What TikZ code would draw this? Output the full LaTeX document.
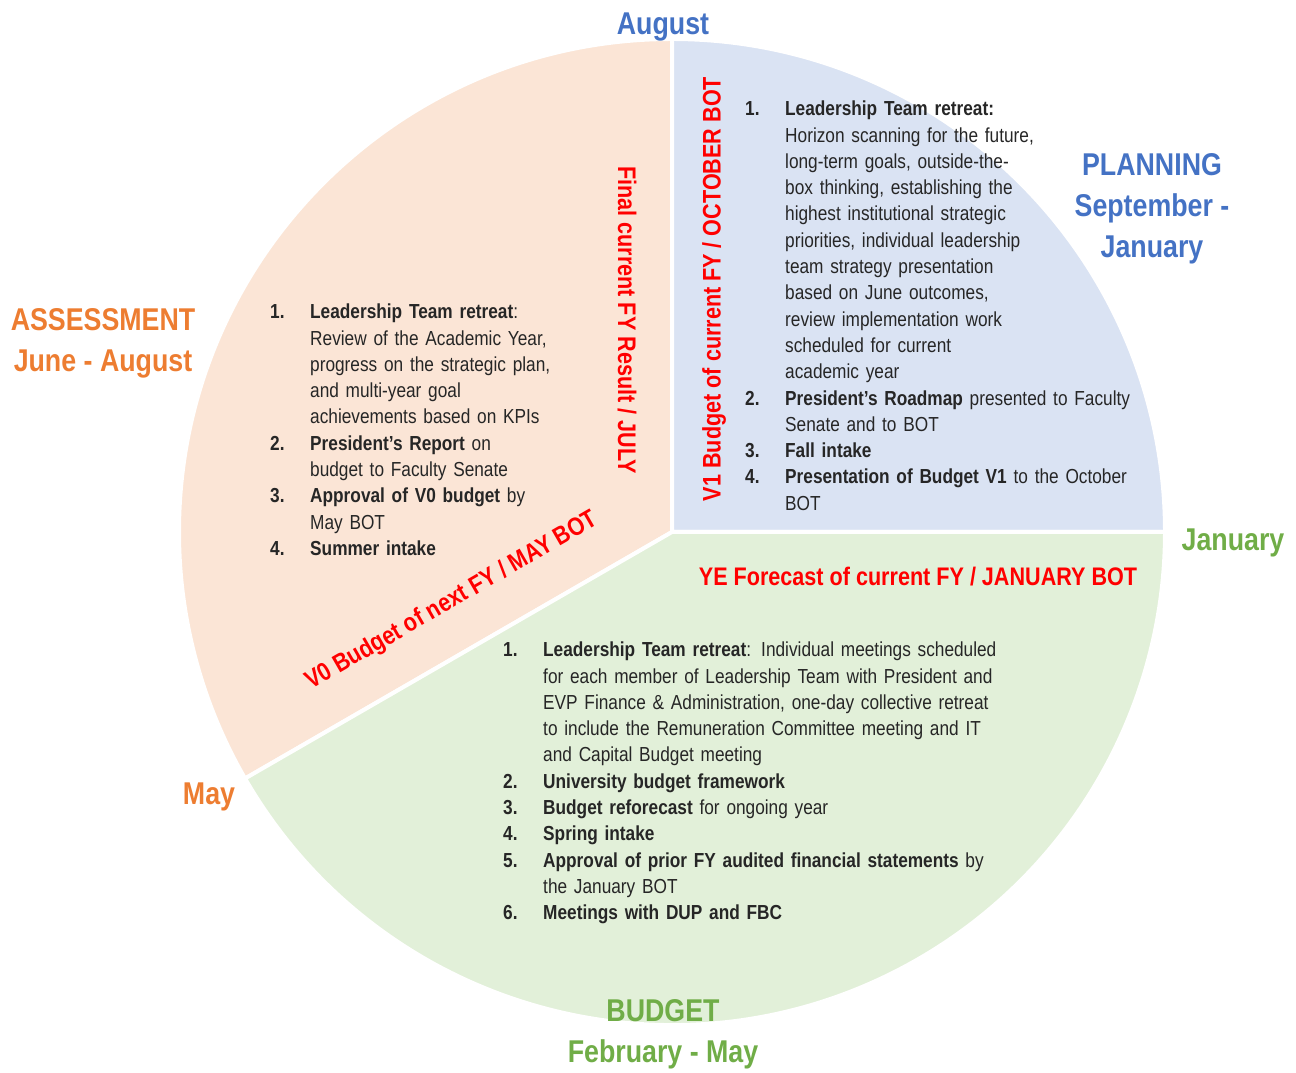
\documentclass[tikz,border=0pt]{standalone}
\usepackage{fontspec}
\setmainfont{Liberation Sans}[FakeStretch=0.85]
\usepackage{tikz}
\usetikzlibrary{positioning}
\definecolor{assessfill}{RGB}{251,229,214}
\definecolor{planfill}{RGB}{218,227,243}
\definecolor{budgetfill}{RGB}{226,240,217}
\definecolor{assessorange}{RGB}{237,125,49}
\definecolor{planblue}{RGB}{68,114,196}
\definecolor{budgetgreen}{RGB}{112,173,71}
\definecolor{bodygray}{RGB}{38,38,38}
\newcommand{\stepitem}[2]{\par\hangindent=40pt\hangafter=1\noindent
  \makebox[40pt][l]{\textbf{#1}}#2\par}

\begin{document}
\begin{tikzpicture}[x=1pt, y=1pt,
  sector/.style={draw=white, line width=4pt},
  season/.style={font=\bfseries\fontsize{31.5}{41}\selectfont, align=center, inner sep=0pt},
  milestone/.style={font=\bfseries\fontsize{25.4}{30}\selectfont, text=red, inner sep=0pt},
  steps/.style={font=\fontsize{20.3}{26.3}\selectfont, text=bodygray, inner sep=0pt,
                anchor=base west}]
  \useasboundingbox (0,0) rectangle (1296,1073);
  \coordinate (ctr) at (672,541);
  % the three seasons of the cycle
  \filldraw[sector, fill=assessfill] (ctr) -- ++(90:493) arc[start angle=90, end angle=210, radius=493] -- cycle;
  \filldraw[sector, fill=planfill] (ctr) -- ++(0:493) arc[start angle=0, end angle=90, radius=493] -- cycle;
  \filldraw[sector, fill=budgetfill] (ctr) -- ++(210:493) arc[start angle=210, end angle=360, radius=493] -- cycle;

  % season titles and months
  \node[season, text=planblue] (aug) at (663,1046) {August};
  \node[season, text=planblue] (planning) at (1152,864) {PLANNING\\ September -\\ January};
  \node[season, text=assessorange] (assess) at (103,729.5) {ASSESSMENT\\ June - August};
  \node[season, text=budgetgreen] (jan) at (1233,530) {January};
  \node[season, text=assessorange] (may) at (209,276) {May};
  \node[season, text=budgetgreen] (budget) at (663,38.5) {BUDGET\\ February - May};

  % budget milestones
  \node[milestone, rotate=-90] (final) at (627,753) {Final current FY Result / JULY};
  \node[milestone, rotate=90] (vone) at (714,784) {V1 Budget of current FY / OCTOBER BOT};
  \node[milestone, rotate=30] (vzero) at (452,472) {V0 Budget of next FY / MAY BOT};
  \node[milestone] (yefc) at (918,496) {YE Forecast of current FY / JANUARY BOT};

  % activities
  \node[steps, text width=300pt] (assesslist) at (270,780.5) {%
    \stepitem{1.}{\textbf{Leadership Team retreat}:\newline Review of the Academic Year,\newline
      progress on the strategic plan,\newline and multi-year goal\newline achievements based on KPIs}
    \stepitem{2.}{\textbf{President's Report} on\newline budget to Faculty Senate}
    \stepitem{3.}{\textbf{Approval of V0 budget} by\newline May BOT}
    \stepitem{4.}{\textbf{Summer intake}}};
  \node[steps, text width=400pt] (planlist) at (745,983.5) {%
    \stepitem{1.}{\textbf{Leadership Team retreat:}\newline Horizon scanning for the future,\newline
      long-term goals, outside-the-\newline box thinking, establishing the\newline
      highest institutional strategic\newline priorities, individual leadership\newline
      team strategy presentation\newline based on June outcomes,\newline
      review implementation work\newline scheduled for current\newline academic year}
    \stepitem{2.}{\textbf{President's Roadmap} presented to Faculty\newline Senate and to BOT}
    \stepitem{3.}{\textbf{Fall intake}}
    \stepitem{4.}{\textbf{Presentation of Budget V1} to the October\newline BOT}};
  \node[steps, text width=510pt] (budgetlist) at (503,442.5) {%
    \stepitem{1.}{\textbf{Leadership Team retreat}: Individual meetings scheduled\newline
      for each member of Leadership Team with President and\newline
      EVP Finance \& Administration, one-day collective retreat\newline
      to include the Remuneration Committee meeting and IT\newline and Capital Budget meeting}
    \stepitem{2.}{\textbf{University budget framework}}
    \stepitem{3.}{\textbf{Budget reforecast} for ongoing year}
    \stepitem{4.}{\textbf{Spring intake}}
    \stepitem{5.}{\textbf{Approval of prior FY audited financial statements} by\newline the January BOT}
    \stepitem{6.}{\textbf{Meetings with DUP and FBC}}};
\end{tikzpicture}
\end{document}
